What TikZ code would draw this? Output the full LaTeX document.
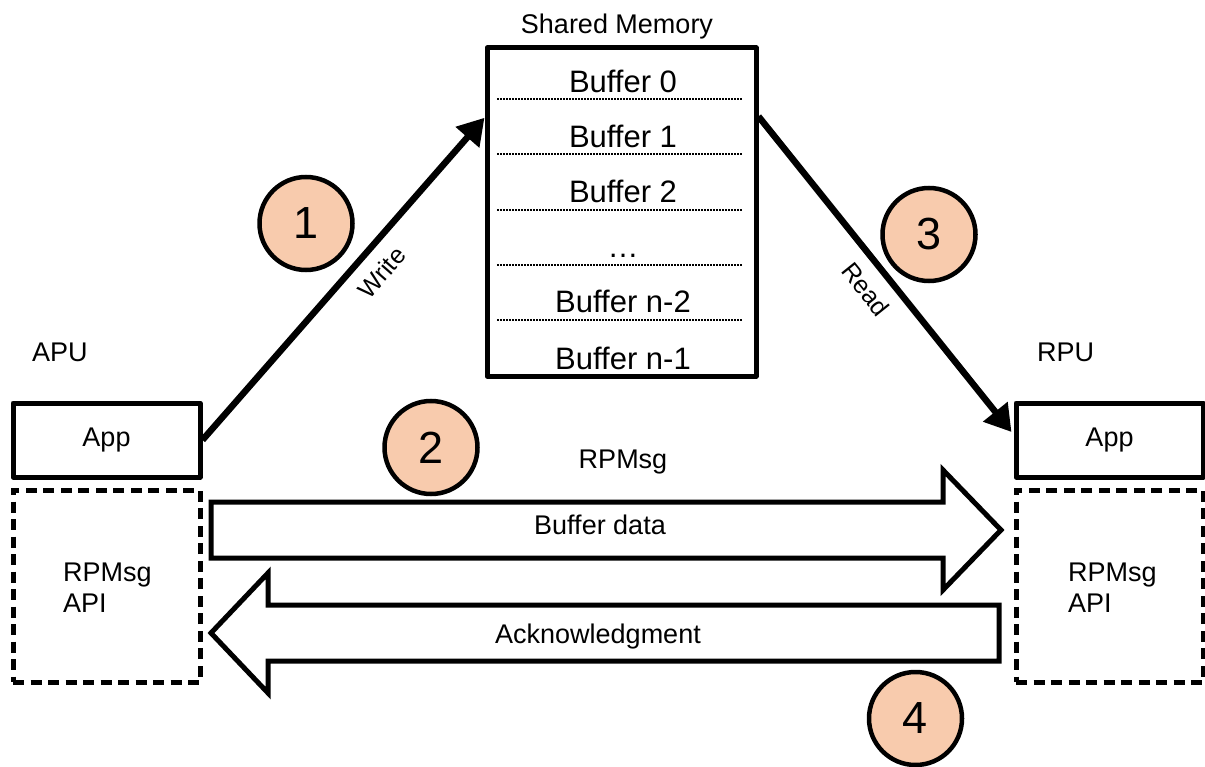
\documentclass[tikz,border=0pt]{standalone}
\usepackage{fontspec}
\setmainfont{Liberation Sans}
\usetikzlibrary{arrows.meta,calc}
\definecolor{peach}{HTML}{F8CBAD}

\begin{document}
\begin{tikzpicture}[x=1pt,y=-1pt,
  every node/.style={inner sep=0pt, text=black},
  txt/.style={font=\fontsize{27}{31}\selectfont},
  buftxt/.style={font=\fontsize{31}{36}\selectfont, anchor=base},
  edgetxt/.style={font=\fontsize{25}{29}\selectfont},
  membox/.style={draw, line width=5pt, line join=round, minimum width=269pt, minimum height=328pt},
  appbox/.style={draw, line width=5pt, line join=round, minimum width=187pt, minimum height=74pt, txt},
  apibox/.style={draw, line width=5pt, dash pattern=on 11pt off 6.5pt, minimum width=187pt, minimum height=192pt},
  sepline/.style={line width=1.5pt, dash pattern=on 1.5pt off 1.5pt},
  numcircle/.style={circle, draw, line width=4.5pt, fill=peach, minimum size=93pt, font=\fontsize{45}{45}\selectfont},
  flow/.style={line width=6.5pt, -{Triangle[length=26pt,width=30pt]}},
  blockarrow/.style={draw, line width=5pt, line join=miter, fill=white}
]
\useasboundingbox (0,0) rectangle (1205,767);

% shared memory with its buffer slots
\node[membox] (shm) at (621.5,212) {};
\node[txt, anchor=base] (shmtitle) at (617,34) {Shared Memory};
\foreach \y in {99,154,210,265,320}
  \draw[sepline] (497,\y) -- (742,\y);
\node[buftxt] (b0) at (623,93) {Buffer 0};
\node[buftxt] (b1) at (623,148) {Buffer 1};
\node[buftxt] (b2) at (623,203) {Buffer 2};
\node[buftxt] (bdots) at (623,258) {…};
\node[buftxt] (bn2) at (623,313) {Buffer n-2};
\node[buftxt] (bn1) at (623,369) {Buffer n-1};

% processors
\node[txt, anchor=base west] (apu) at (32,362) {APU};
\node[txt, anchor=base west] (rpu) at (1037,362) {RPU};
\node[appbox] (appL) at (106.5,440) {App};
\node[appbox] (appR) at (1109.5,440) {App};
\node[apibox] (apiL) at (106.5,586) {};
\node[apibox] (apiR) at (1109.5,586) {};
\node[txt, anchor=base west] (apiL1) at (63,581) {RPMsg};
\node[txt, anchor=base west] (apiL2) at (63,612) {API};
\node[txt, anchor=base west] (apiR1) at (1068,581) {RPMsg};
\node[txt, anchor=base west] (apiR2) at (1068,612) {API};

% write and read paths through shared memory
\coordinate (wIn) at ($(shm.north west)!0.217!(shm.south west)$);
\coordinate (rOut) at ($(shm.north east)!0.213!(shm.south east)$);
\coordinate (rIn) at ($(appR.west)+(-2,-8)$);
\draw[flow] (appL.east) -- node[sloped, below, pos=0.57, edgetxt, inner sep=12pt] (wlbl) {Write} (wIn);
\draw[flow] (rOut) -- node[sloped, below, pos=0.5, edgetxt, inner sep=12pt] (rlbl) {Read} (rIn);

% RPMsg channel
\node[txt, anchor=base] (rpmsg) at (623,468) {RPMsg};
\draw[blockarrow] (211,502) -- (943,502) -- (943,470) -- (1001,530) -- (943,590) -- (943,558) -- (211,558) -- cycle;
\node[txt, anchor=base] (bufdata) at (600,534) {Buffer data};
\draw[blockarrow] (999,605) -- (268,605) -- (268,573) -- (211,633) -- (268,693) -- (268,661) -- (999,661) -- cycle;
\node[txt, anchor=base] (ack) at (598,643) {Acknowledgment};

% step numbers
\node[numcircle] (n1) at (306,223.5) {1};
\node[numcircle] (n2) at (431,447.5) {2};
\node[numcircle] (n3) at (929,234.5) {3};
\node[numcircle] (n4) at (915.5,718.5) {4};
\end{tikzpicture}
\end{document}
